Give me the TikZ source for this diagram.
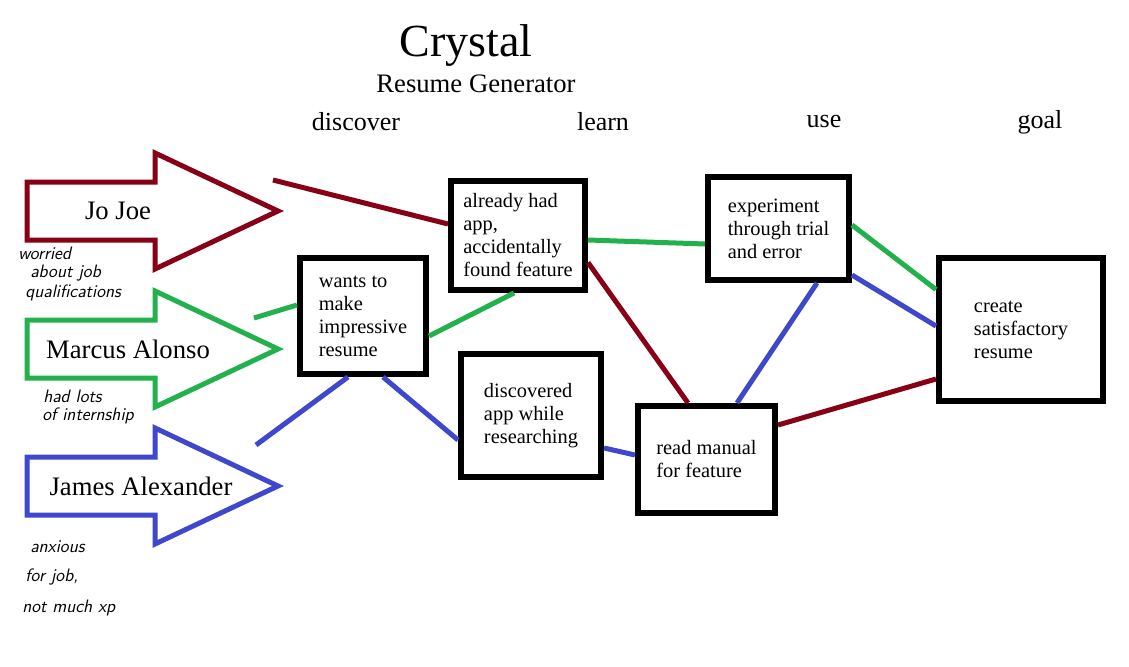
\documentclass[tikz,border=0pt]{standalone}
\usepackage{fontspec}
\setmainfont{Liberation Serif}
\usetikzlibrary{calc}
\definecolor{pred}{HTML}{880015}
\definecolor{pgreen}{HTML}{22B14C}
\definecolor{pblue}{HTML}{3F48CC}
\tikzset{
  stagebox/.style={draw=black, line width=4.5pt, fill=white, inner sep=0pt, align=left,
     font=\fontsize{15.3pt}{17.25pt}\selectfont},
  personarrow/.style={line width=3.75pt, line join=miter, fill=white},
  personname/.style={font=\fontsize{20pt}{24pt}\selectfont, inner sep=0pt},
  collabel/.style={font=\fontsize{19.5pt}{23pt}\selectfont, inner sep=0pt},
  link/.style={line width=3.75pt},
  note/.style={font=\sffamily\itshape\fontsize{13.5pt}{15pt}\selectfont, inner sep=0pt, anchor=west}
}
\begin{document}
\begin{tikzpicture}[x=0.75pt,y=-0.75pt]
\useasboundingbox[fill=white] (0,0) rectangle (1129,667);

% title
\node[font=\fontsize{34.5pt}{40pt}\selectfont, inner sep=0pt] (title) at (466,46) {Crystal};
\node[font=\fontsize{20pt}{24pt}\selectfont, inner sep=0pt] (subtitle) at (476,84) {Resume Generator};

% column labels
\node[collabel] (cdiscover) at (356,122) {discover};
\node[collabel] (clearn) at (603,122) {learn};
\node[collabel] (cuse) at (824,122) {use};
\node[collabel] (cgoal) at (1040,122) {goal};

% person arrows
\draw[personarrow, draw=pred] (27,182) -- (155,182) -- (155,153) -- (278,211) -- (155,269) -- (155,240) -- (27,240) -- cycle;
\draw[personarrow, draw=pgreen] (27,320) -- (155,320) -- (155,291) -- (278,349) -- (155,407) -- (155,378) -- (27,378) -- cycle;
\draw[personarrow, draw=pblue] (27,457) -- (155,457) -- (155,428) -- (278,486) -- (155,544) -- (155,515) -- (27,515) -- cycle;
\node[personname] (jojoe) at (118,211) {Jo Joe};
\node[personname] (marcus) at (128,349) {Marcus Alonso};
\node[personname] (james) at (141,486) {James Alexander};

% notes
\node[note] (n1a) at (18,253) {worried};
\node[note] (n1b) at (30,273) {about job};
\node[note] (n1c) at (25,293) {qualifications};
\node[note] (n2a) at (43,396) {had lots};
\node[note] (n2b) at (42,416) {of internship};
\node[note] (n3a) at (30,547) {anxious};
\node[note] (n3b) at (25,577) {for job,};
\node[note] (n3c) at (22,608) {not much xp};

% stage boxes
\node[stagebox, minimum width=94.5pt, minimum height=87pt] (wants) at (363,316) {wants to\\make\\impressive\\resume};
\node[stagebox, minimum width=100.5pt, minimum height=81.75pt] (already) at (518,235.5) {already had\\app,\\accidentally\\found feature};
\node[stagebox, minimum width=105.75pt, minimum height=77.25pt] (exper) at (778.5,228.5) {experiment\\through trial\\and error};
\node[stagebox, minimum width=105pt, minimum height=92.25pt] (disc) at (531,415.5) {discovered\\app while\\researching};
\node[stagebox, minimum width=102.75pt, minimum height=80.25pt] (manual) at (706.5,459.5) {read manual\\for feature};
\node[stagebox, minimum width=123pt, minimum height=107.25pt] (create) at (1021,329.5) {create\\satisfactory\\resume};

% free ends
\coordinate (r0) at (273,180);
\coordinate (g0) at (254,318);
\coordinate (b0) at (256,445);

% red connectors
\draw[link, pred] (r0) -- ($(already.center)+(-70,-11.5)$);
\draw[link, pred] ($(already.center)+(70,27)$) -- ($(manual.center)+(-18.5,-56.5)$);
\draw[link, pred] ($(manual.center)+(71.5,-34.5)$) -- ($(create.center)+(-85,49.5)$);

% green connectors
\draw[link, pgreen] (g0) -- ($(wants.center)+(-66,-11)$);
\draw[link, pgreen] ($(wants.center)+(66,20)$) -- ($(already.center)+(-4,57.5)$);
\draw[link, pgreen] ($(already.center)+(70,4.5)$) -- ($(exper.center)+(-73.5,15.5)$);
\draw[link, pgreen] ($(exper.center)+(73.5,-3.5)$) -- ($(create.center)+(-85,-40)$);

% blue connectors
\draw[link, pblue] (b0) -- ($(wants.center)+(-15,61)$);
\draw[link, pblue] ($(wants.center)+(20,61)$) -- ($(disc.center)+(-73,24.5)$);
\draw[link, pblue] ($(disc.center)+(73,32.5)$) -- ($(manual.center)+(-71.5,-4.5)$);
\draw[link, pblue] ($(manual.center)+(30.5,-56.5)$) -- ($(exper.center)+(38.5,54.5)$);
\draw[link, pblue] ($(exper.center)+(73.5,46.5)$) -- ($(create.center)+(-85,-3.5)$);
\end{tikzpicture}
\end{document}
